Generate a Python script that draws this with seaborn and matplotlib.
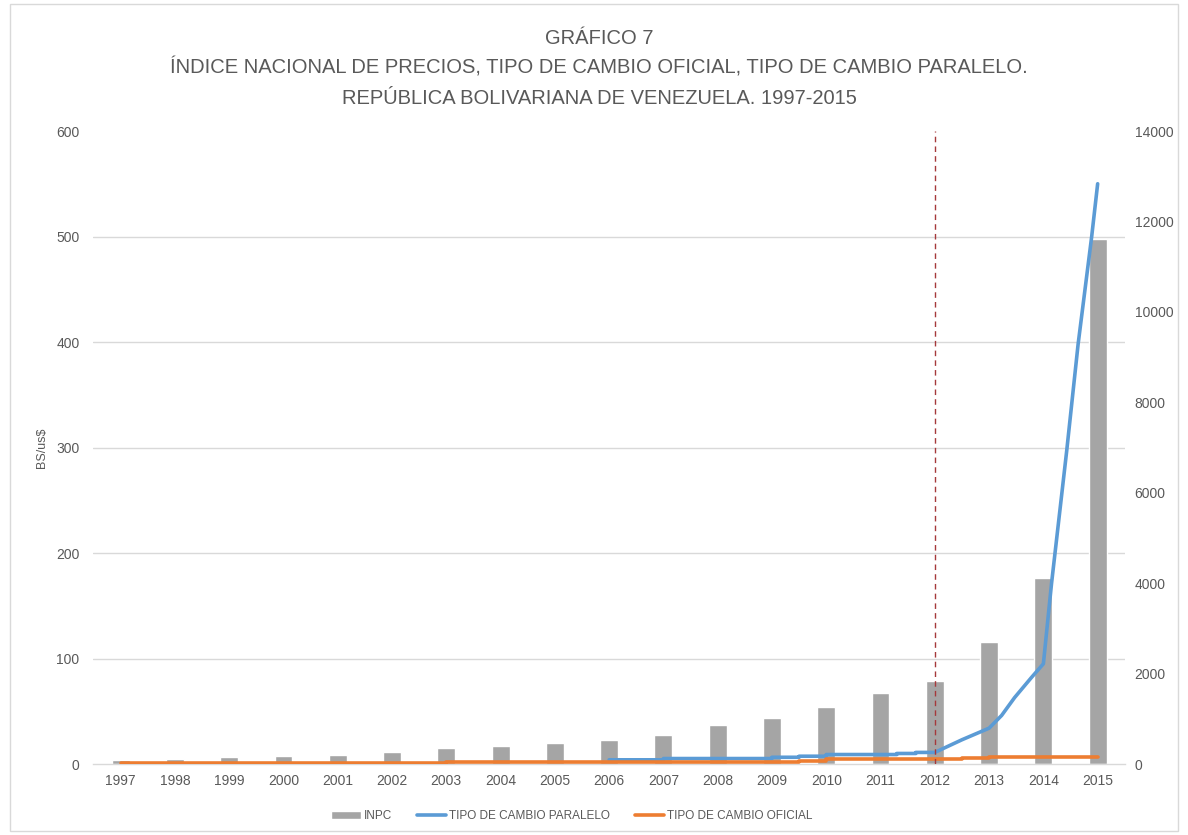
import numpy as np
import pandas as pd
import matplotlib
matplotlib.use("Agg")
import matplotlib.pyplot as plt
from matplotlib.ticker import FixedLocator
from matplotlib.patches import Rectangle
import seaborn as sns

# Índice Nacional de Precios (1997 = 100), eje derecho
years = list(range(1997, 2016))
inpc = [100, 118, 150, 178, 200, 265, 345, 400, 458, 530,
        631, 867, 1007, 1257, 1567, 1832, 2696, 4105, 11607]

# Tipo de cambio paralelo (Bs/US$), eje izquierdo, por fecha fraccional
paralelo_fecha = [2006.0, 2007.0, 2007.0, 2009.0, 2009.0, 2009.5, 2009.5,
                  2010.0, 2010.0, 2011.3, 2011.3, 2011.65, 2011.65, 2012.0,
                  2012.5, 2013.0, 2013.23, 2013.47, 2013.78, 2014.0,
                  2014.15, 2014.43, 2014.64, 2014.89, 2015.0]
paralelo_bs = [4.0, 4.0, 5.2, 5.2, 6.4, 6.4, 7.4,
               7.4, 9.0, 9.0, 10.0, 10.0, 11.0, 11.0,
               23, 34, 46, 63, 82, 95,
               171, 297, 398, 500, 550]

# Tipo de cambio oficial (Bs/US$), eje izquierdo
oficial_fecha = [1997.0, 1998.0, 1999.0, 2000.0, 2001.0, 2002.0, 2003.0,
                 2004.0, 2005.0, 2009.5, 2010.0, 2012.5, 2013.0, 2015.0]
oficial_bs = [0.5, 0.55, 0.6, 0.68, 0.72, 1.16, 1.6,
              1.92, 2.15, 2.6, 4.3, 5.3, 6.3, 6.3]

title_lines = ["GRÁFICO 7",
               "ÍNDICE NACIONAL DE PRECIOS, TIPO DE CAMBIO OFICIAL, TIPO DE CAMBIO PARALELO.",
               "REPÚBLICA BOLIVARIANA DE VENEZUELA. 1997-2015"]
legend_labels = ["INPC", "TIPO DE CAMBIO PARALELO", "TIPO DE CAMBIO OFICIAL"]

GRAY_TEXT = "#595959"
GRID = "#d9d9d9"
BAR = "#a5a5a5"
BLUE = "#5b9bd5"
ORANGE = "#ed7d31"

sns.set_theme(style="white")
plt.rcParams["font.family"] = ["Liberation Sans", "DejaVu Sans"]

fig = plt.figure(figsize=(11.88, 8.35), dpi=100)
ax_bar = fig.add_axes([0.0787, 0.085, 0.8681, 0.7581])
ax_line = ax_bar.twinx()

df_inpc = pd.DataFrame({"year": years, "inpc": inpc})
sns.barplot(data=df_inpc, x="year", y="inpc", color=BAR, saturation=1,
            width=0.33, ax=ax_bar, zorder=2)

pos_par = np.array(paralelo_fecha) - years[0]
pos_of = np.array(oficial_fecha) - years[0]
sns.lineplot(x=pos_par, y=paralelo_bs, ax=ax_line, color=BLUE, lw=2.6,
             estimator=None, sort=False, zorder=3)
sns.lineplot(x=pos_of, y=oficial_bs, ax=ax_line, color=ORANGE, lw=2.6,
             estimator=None, sort=False, drawstyle="steps-post", zorder=4)

# línea de referencia en 2012
ax_line.axvline(years.index(2012), color="#a5393b", lw=1.0,
                ls=(0, (4, 3)), zorder=5)

# ejes
ax_bar.set_xlim(-0.5, len(years) - 0.5)
ax_bar.set_ylim(0, 14000)
ax_line.set_ylim(0, 600)

ax_bar.yaxis.tick_right()
ax_line.yaxis.tick_left()
ax_line.yaxis.set_label_position("left")

ax_bar.set_yticks(range(0, 14001, 2000))
ax_line.set_yticks(range(0, 601, 100))
ax_bar.set_xticks(range(len(years)))
ax_bar.set_xticklabels([str(y) for y in years])

# cuadrícula en la escala del eje izquierdo, detrás de las barras
ax_bar.yaxis.set_minor_locator(FixedLocator([14000 / 6 * k for k in range(1, 7)]))
ax_bar.grid(False)
ax_line.grid(False)
ax_bar.grid(which="minor", axis="y", color=GRID, lw=1.0)
ax_bar.set_axisbelow(True)

for a in (ax_bar, ax_line):
    for s in a.spines.values():
        s.set_visible(False)
ax_bar.spines["bottom"].set_visible(True)
ax_bar.spines["bottom"].set_color(GRID)
ax_bar.spines["bottom"].set_linewidth(1.0)

ax_bar.tick_params(axis="both", which="both", length=0, labelcolor=GRAY_TEXT,
                   labelsize=10)
ax_bar.tick_params(axis="y", pad=7)
ax_bar.tick_params(axis="x", pad=7)
ax_line.tick_params(axis="y", length=0, labelcolor=GRAY_TEXT, labelsize=10, pad=10)

ax_bar.set_xlabel("")
ax_bar.set_ylabel("")
ax_line.set_xlabel("")
ax_line.set_ylabel("BS/us$", fontsize=9, color=GRAY_TEXT, labelpad=6)

# título
for txt, yy in zip(title_lines, [38, 68, 98]):
    fig.text(599 / 1188, 1 - yy / 835, txt, ha="center", va="center",
             fontsize=14.5, color=GRAY_TEXT)

# leyenda inferior
handles = [ax_bar.patches[0], ax_line.lines[0], ax_line.lines[1]]
fig.legend(handles, legend_labels, loc="center",
           bbox_to_anchor=(572 / 1188, 1 - 816 / 835), ncol=3, frameon=False,
           handlelength=2.5, handleheight=0.6, columnspacing=2.1,
           handletextpad=0.25, prop={"size": 8.5},
           labelcolor=GRAY_TEXT)

# marco del gráfico
fig.patches.append(Rectangle((10 / 1188, 4 / 835), 1168 / 1188, 827 / 835,
                             transform=fig.transFigure, fill=False,
                             ec=GRID, lw=1.0))

fig.savefig("out.png", dpi=100)
